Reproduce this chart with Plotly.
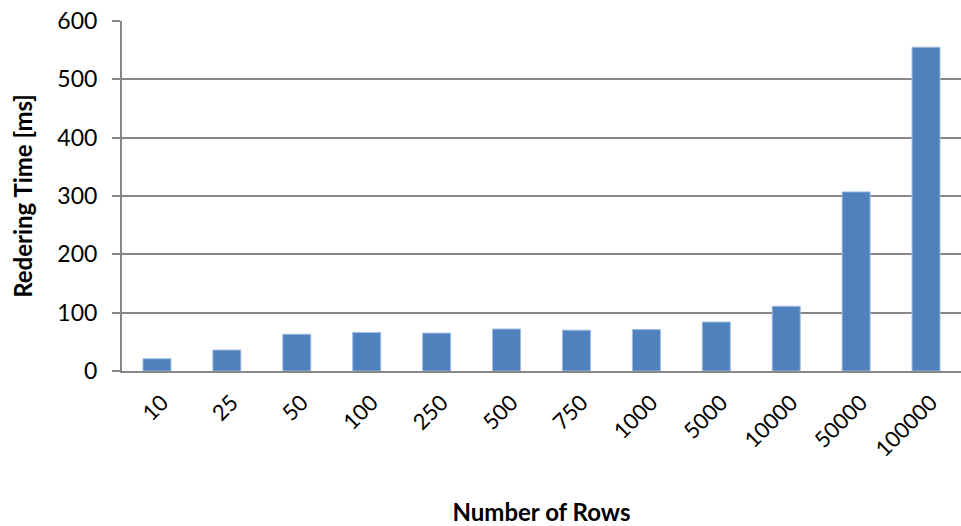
import plotly.graph_objects as go

categories = ["10", "25", "50", "100", "250", "500", "750", "1000", "5000", "10000", "50000", "100000"]
render_ms = [21, 36, 63, 66, 65, 72, 70, 71, 84, 111, 307, 555]
y_ticks = [0, 100, 200, 300, 400, 500, 600]

FONT = "Lato"
GRID = "#878787"

fig = go.Figure(go.Bar(
    x=categories, y=render_ms,
    marker=dict(color="#4F81BD", line=dict(color="#9DBBE0", width=1)),
))
fig.update_layout(
    width=961, height=526,
    margin=dict(l=122, r=0, t=21, b=155),
    paper_bgcolor="white", plot_bgcolor="white",
    bargap=0.6, showlegend=False,
    font=dict(family=FONT, color="black"),
)
fig.update_xaxes(
    type="category", tickangle=-45, tickfont=dict(size=22),
    showline=True, linecolor=GRID, linewidth=2, showgrid=False,
    ticks="", ticklabelshift=5, ticklabelstandoff=8,
    title=dict(text="<b>Number of Rows</b>", font=dict(size=24), standoff=43),
)
fig.update_yaxes(
    range=[0, 600], tickvals=y_ticks, tickfont=dict(size=23),
    showgrid=True, gridcolor=GRID, gridwidth=2,
    showline=True, linecolor=GRID, linewidth=2,
    ticks="outside", ticklen=8, tickcolor=GRID, tickwidth=2,
    ticklabelstandoff=10,
    zeroline=False,
    title=dict(text="<b>Redering Time [ms]</b>", font=dict(size=24), standoff=18),
)
fig.write_html("out.html")
